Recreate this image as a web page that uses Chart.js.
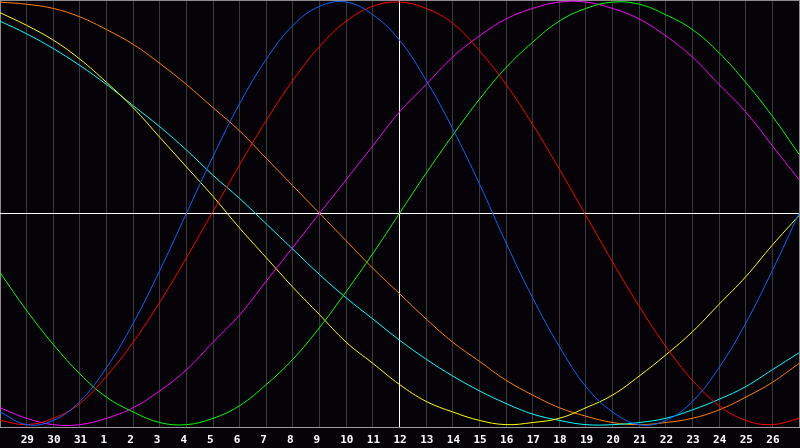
<!DOCTYPE html>
<html>
<head>
<meta charset="utf-8">
<script src="https://cdn.jsdelivr.net/npm/chart.js@4.4.1/dist/chart.umd.min.js"></script>
<style>
  html, body { margin: 0; padding: 0; background: #050308; }
  #wrap { width: 800px; height: 448px; }
</style>
</head>
<body>
<div id="wrap"><canvas id="bio"></canvas></div>
<script>
// day labels along the bottom (28 and 27 sit on the edges and are not printed)
const days = ['28','29','30','31','1','2','3','4','5','6','7','8','9','10','11','12',
              '13','14','15','16','17','18','19','20','21','22','23','24','25','26','27'];
const TODAY = 15; // index of "12", the white vertical line

// cycle values, % (-100..100), one per day
const blue    = [-94,-100,-98,-89,-73,-52,-27,0,27,52,73,89,98,100,94,82,63,40,14,-14,-40,-63,-82,-94,-100,-98,-89,-73,-52,-27,0];
const red     = [-98,-100,-97,-90,-77,-61,-42,-21,1,23,44,63,79,91,98,100,97,90,77,61,42,21,-1,-23,-44,-63,-79,-91,-98,-100,-97];
const green   = [-28,-46,-62,-76,-87,-94,-99,-100,-97,-91,-81,-69,-54,-37,-19,0,19,37,54,69,81,91,97,100,99,94,87,76,62,46,28];
const magenta = [-92,-97,-100,-100,-97,-92,-84,-74,-61,-48,-32,-16,0,16,32,48,61,74,84,92,97,100,100,97,92,84,74,61,48,32,16];
const yellow  = [95,89,82,73,62,50,36,22,8,-7,-21,-35,-48,-61,-71,-81,-89,-94,-98,-100,-99,-97,-92,-86,-77,-67,-56,-43,-30,-15,-1];
const cyan    = [91,85,78,70,61,51,41,30,18,7,-5,-17,-29,-40,-50,-60,-69,-77,-84,-90,-95,-98,-100,-100,-99,-97,-93,-88,-82,-74,-66];
const orange  = [100,99,97,93,87,80,71,61,50,39,26,13,0,-13,-26,-38,-50,-61,-70,-79,-86,-92,-96,-99,-100,-99,-97,-93,-87,-80,-71];

const line = (data, color) => ({
  data, borderColor: color, borderWidth: 1, pointRadius: 0, tension: 0.4, fill: false
});

new Chart(document.getElementById('bio'), {
  type: 'line',
  data: {
    labels: days,
    datasets: [
      line(blue, '#0a64ff'),
      line(red, '#ff0000'),
      line(green, '#00ff00'),
      line(magenta, '#ff00ff'),
      line(yellow, '#ffff00'),
      line(cyan, '#00ffff'),
      line(orange, '#ff8000'),
    ]
  },
  options: {
    animation: false, responsive: true, maintainAspectRatio: false,
    layout: { padding: { left: 0, right: 1, top: 0, bottom: 1 } },
    plugins: { legend: { display: false }, tooltip: { enabled: false } },
    scales: {
      x: {
        grid: {
          drawTicks: true, tickLength: 6, tickColor: 'transparent',
          color: (c) => c.index === TODAY ? '#ffffff'
            : (c.index === 0 || c.index === days.length - 1) ? '#8c8c8c' : '#3a3a3a'
        },
        border: { display: true, color: '#9a9a9a' },
        ticks: {
          autoSkip: false, maxRotation: 0, padding: 0, align: 'start', labelOffset: -6,
          color: '#ffffff', font: { family: '"DejaVu Sans Mono"', size: 11, weight: 'bold' },
          callback: (v, i) => (i === 0 || i === days.length - 1) ? '' : days[i]
        }
      },
      y: {
        min: -101.5, max: 101,
        afterBuildTicks: (s) => { s.ticks = [{ value: 0 }, { value: 101 }]; },
        grid: { drawTicks: false, color: (c) => c.tick.value === 0 ? '#ffffff' : '#8c8c8c' },
        border: { display: false },
        ticks: { display: false, padding: 0 }
      }
    }
  }
});
</script>
</body>
</html>
